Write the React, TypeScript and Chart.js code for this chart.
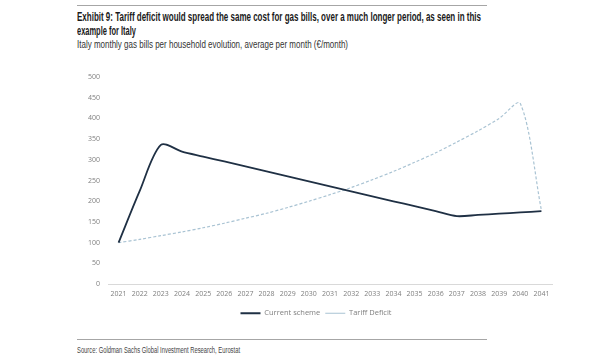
import React, { useEffect, useLayoutEffect, useRef } from "react";
import { Chart, registerables } from "chart.js";

Chart.register(...registerables);

const years = ["2021","2022","2023","2024","2025","2026","2027","2028","2029","2030","2031","2032","2033","2034","2035","2036","2037","2038","2039","2040","2041"];
const currentScheme = [100, 225, 336, 320, 308, 296, 284, 272, 260, 248, 236, 224, 212, 200, 188, 176, 164, 167, 170, 173, 176];
const tariffDeficit = [100, 108, 117, 126, 136, 147, 159, 171, 185, 200, 216, 233, 252, 272, 294, 317, 343, 370, 400, 436, 178];
const yTicks = [0, 50, 100, 150, 200, 250, 300, 350, 400, 450, 500];

const narrow = '"Liberation Sans", Arial, sans-serif';

function FitText(props: { text: string; width: number; left: number; top: number; style: React.CSSProperties }) {
  const ref = useRef<HTMLDivElement | null>(null);
  useLayoutEffect(() => {
    const el = ref.current;
    if (!el) return;
    el.style.transform = "none";
    const w = el.getBoundingClientRect().width;
    if (w > 0) el.style.transform = `scaleX(${props.width / w})`;
  }, [props.text, props.width]);
  return (
    <div
      ref={ref}
      style={{
        position: "absolute",
        left: props.left,
        top: props.top,
        whiteSpace: "nowrap",
        transformOrigin: "0 0",
        display: "inline-block",
        ...props.style,
      }}
    >
      {props.text}
    </div>
  );
}

export default function App() {
  const ref = useRef<HTMLCanvasElement | null>(null);
  useEffect(() => {
    if (!ref.current) return;
    const chart = new Chart(ref.current, {
      type: "line",
      data: {
        labels: years,
        datasets: [
          {
            label: "Current scheme",
            data: currentScheme,
            borderColor: "#1f3044",
            backgroundColor: "#1f3044",
            borderWidth: 1.8,
            pointRadius: 0,
            tension: 0.3,
            fill: false,
          },
          {
            label: "Tariff Deficit",
            data: tariffDeficit,
            borderColor: "#a9c3d3",
            backgroundColor: "#a9c3d3",
            borderWidth: 1.2,
            borderDash: [3, 2],
            pointRadius: 0,
            tension: 0.3,
            fill: false,
          },
        ],
      },
      options: {
        animation: false,
        responsive: false,
        maintainAspectRatio: false,
        layout: { padding: { left: 0, right: 8, top: 15, bottom: 0 } },
        plugins: {
          legend: {
            position: "bottom",
            labels: {
              usePointStyle: true,
              pointStyle: "line",
              pointStyleWidth: 20,
              boxWidth: 20,
              boxHeight: 6,
              padding: 5,
              color: "#7f7f7f",
              font: { family: '"Open Sans", sans-serif', size: 7.5 },
            },
          },
          tooltip: { enabled: false },
        },
        scales: {
          x: {
            type: "category",
            offset: true,
            grid: { display: false, drawTicks: false },
            border: { display: true, color: "#d9d9d9", width: 1 },
            ticks: {
              color: "#7f7f7f",
              font: { family: '"Open Sans", sans-serif', size: 7 },
              maxRotation: 0,
              autoSkip: false,
              padding: 6,
            },
          },
          y: {
            min: 0,
            max: 500,
            afterBuildTicks: (axis: any) => {
              axis.ticks = yTicks.map((v) => ({ value: v }));
            },
            grid: { display: false, drawTicks: false },
            border: { display: false },
            ticks: {
              color: "#7f7f7f",
              font: { family: '"Open Sans", sans-serif', size: 7 },
              padding: 8,
            },
          },
        },
      },
    });
    return () => chart.destroy();
  }, []);

  return (
    <div style={{ position: "absolute", left: 0, top: 0, width: 600, height: 362, background: "#fff", overflow: "hidden" }}>
      <div style={{ position: "absolute", left: 77, top: 5, width: 410, height: 0, borderTop: "1px solid #a6a6a6" }} />
      <FitText
        text="Exhibit 9: Tariff deficit would spread the same cost for gas bills, over a much longer period, as seen in this"
        width={404}
        left={77}
        top={10}
        style={{ fontFamily: narrow, fontWeight: "bold", fontSize: 12, lineHeight: "14px", color: "#1a1a1a" }}
      />
      <FitText
        text="example for Italy"
        width={59}
        left={77}
        top={24}
        style={{ fontFamily: narrow, fontWeight: "bold", fontSize: 12, lineHeight: "14px", color: "#1a1a1a" }}
      />
      <FitText
        text="Italy monthly gas bills per household evolution, average per month (€/month)"
        width={271}
        left={77}
        top={38}
        style={{ fontFamily: narrow, fontSize: 10.5, lineHeight: "13px", color: "#333" }}
      />
      <canvas ref={ref} width={480} height={265} style={{ position: "absolute", left: 80, top: 62, width: 480, height: 265 }} />
      <div style={{ position: "absolute", left: 77, top: 339, width: 410, height: 0, borderTop: "1px solid #a6a6a6" }} />
      <FitText
        text="Source: Goldman Sachs Global Investment Research, Eurostat"
        width={163}
        left={77}
        top={345}
        style={{ fontFamily: narrow, fontSize: 8.5, lineHeight: "10px", color: "#444" }}
      />
    </div>
  );
}
